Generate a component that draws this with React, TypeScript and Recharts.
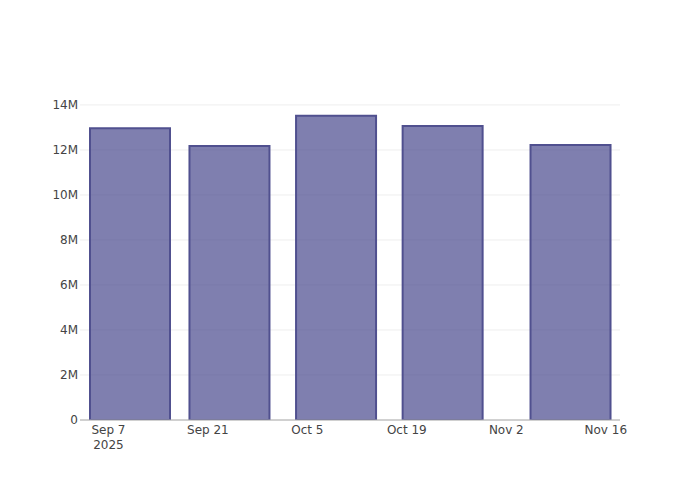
import React from "react";
import { BarChart, Bar, XAxis, YAxis, CartesianGrid } from "recharts";

const dates = ["2025-09-10", "2025-09-24", "2025-10-09", "2025-10-24", "2025-11-11"];
const values = [12960000, 12180000, 13520000, 13070000, 12220000];
const xTickDates = ["2025-09-07", "2025-09-21", "2025-10-05", "2025-10-19", "2025-11-02", "2025-11-16"];
const xTickLabels = ["Sep 7", "Sep 21", "Oct 5", "Oct 19", "Nov 2", "Nov 16"];
const yTicks = [0, 2000000, 4000000, 6000000, 8000000, 10000000, 12000000, 14000000];
const xDomainDates = ["2025-09-03", "2025-11-18"];
const yMax = 14220000;

const toMs = (d: string) => Date.parse(d + "T00:00:00Z");
const data = dates.map((d, i) => ({ t: toMs(d), v: values[i] }));
const xTicks = xTickDates.map(toMs);

const FONT = "'DejaVu Sans', Verdana, sans-serif";

const XTick = (props: any) => {
  const { x, y, payload } = props;
  const i = xTicks.indexOf(payload.value);
  const label = i >= 0 ? xTickLabels[i] : "";
  return (
    <g>
      <text x={x} y={y + 6} textAnchor="middle" fontFamily={FONT} fontSize={12} fill="#444">
        {label}
      </text>
      {i === 0 && (
        <text x={x} y={y + 21} textAnchor="middle" fontFamily={FONT} fontSize={12} fill="#444">
          2025
        </text>
      )}
    </g>
  );
};

const fmtY = (v: number) => (v === 0 ? "0" : `${v / 1000000}M`);

const gridGen = (args: any) => {
  const off = args && args.offset;
  if (!off) return [];
  return yTicks.map((t) => off.top + off.height * (1 - t / yMax));
};

export default function App() {
  return (
    <div style={{ margin: -8 }}>
      <BarChart
        width={700}
        height={500}
        data={data}
        margin={{ top: 100, right: 80, bottom: 0, left: 20 }}
      >
        <CartesianGrid
          vertical={false}
          stroke="#eeeeee"
          strokeWidth={1}
          horizontalCoordinatesGenerator={gridGen}
        />
        <XAxis
          dataKey="t"
          type="number"
          scale="time"
          domain={xDomainDates.map(toMs)}
          ticks={xTicks}
          interval={0}
          tick={<XTick />}
          tickLine={false}
          axisLine={{ stroke: "#aaaaaa", strokeWidth: 1 }}
          allowDataOverflow
          height={80}
        />
        <YAxis
          type="number"
          domain={[0, yMax]}
          ticks={yTicks}
          interval={0}
          tickFormatter={fmtY}
          tickLine={false}
          axisLine={false}
          tickSize={0}
          tickMargin={2}
          width={60}
          tick={{ fontFamily: FONT, fontSize: 12, fill: "#444" }}
          allowDataOverflow
        />
        <Bar
          dataKey="v"
          barSize={80}
          fill="rgb(72,72,141)"
          fillOpacity={0.7}
          stroke="#50508f"
          strokeWidth={2}
          isAnimationActive={false}
        />
      </BarChart>
    </div>
  );
}
